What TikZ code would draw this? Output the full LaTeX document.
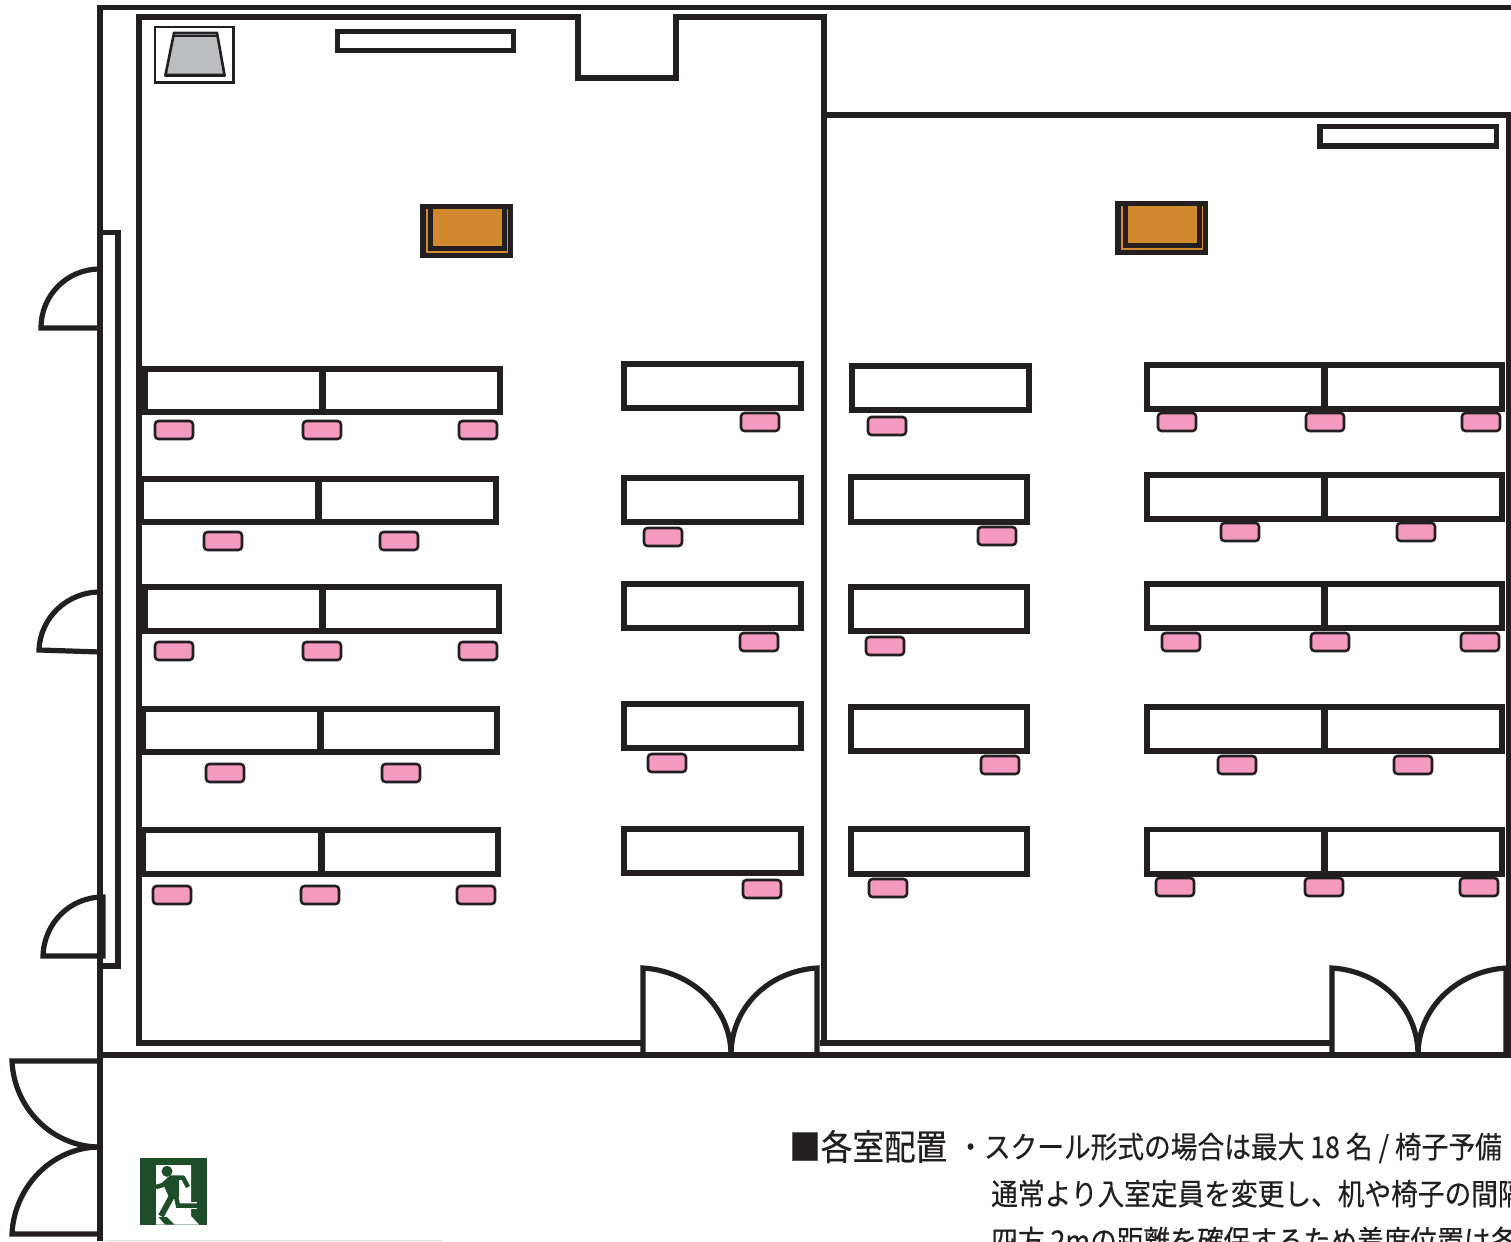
\documentclass[tikz,border=0pt]{standalone}
\usepackage{fontspec}
\newfontfamily\jpfont[FakeStretch=0.89, FakeBold=0.4]{Noto Sans CJK JP}
\definecolor{wallink}{HTML}{231F20}
\definecolor{chairpink}{HTML}{F49AC1}
\definecolor{podiumorange}{HTML}{D2882D}
\definecolor{screengray}{HTML}{BCBEC0}
\definecolor{exitgreen}{HTML}{1E4E29}
\tikzset{
  wall/.style={draw=wallink, line width=5.2pt},
  desk/.style={draw=wallink, line width=5.2pt, fill=white},
  chair/.style={draw=wallink, line width=2.6pt, fill=chairpink, rounded corners=3.5pt},
  note/.style={anchor=base west, inner sep=0pt, text=wallink, font=\jpfont\fontsize{30}{30}\selectfont},
}
\begin{document}
\begin{tikzpicture}[x=1pt, y=-1pt]
\useasboundingbox (0,0) rectangle (1511,1241);
\clip (0,0) rectangle (1511,1241);
% walls
\draw[wall] (1511,7.5)--(100,7.5)--(100,1241);
\draw[wall] (100,1055)--(1511,1055);
\draw[wall] (642,1043)--(139,1043)--(139,17)--(578,17)--(578,78)--(676,78)--(676,17)--(824,17)--(824,1043);
\draw[wall] (820,1043)--(1332,1043);
\draw[wall] (824,115)--(1508.5,115)--(1508.5,1055);
\draw[wall] (100,232.5)--(118,232.5)--(118,966)--(100,966);
% side doors
\draw[wall] (100,269) .. controls (67,269) and (41,295) .. (41,328)--(100,328);
\draw[wall] (100,592) .. controls (67,592) and (40,618) .. (39,650)--(100,652);
\draw[wall] (103,956)--(43,956) .. controls (44,923) and (70,897) .. (103,897)--cycle;
\draw[wall] (100,1061)--(12,1061) .. controls (14,1108) and (52,1147) .. (100,1147);
\draw[wall] (100,1147) .. controls (52,1147) and (14,1187) .. (12,1234)--(100,1234);
% double doors
\foreach \Xa/\Xm/\Xb in {643/731/817, 1332/1418/1506}{
    \draw[wall] (\Xa,1055)--(\Xa,968) .. controls (\Xa+48,971) and (\Xm,1007) .. (\Xm,1055);
    \draw[wall] (\Xb,1055)--(\Xb,968) .. controls (\Xb-48,971) and (\Xm,1007) .. (\Xm,1055);
}
% shelves
\draw[desk] (337.5,31.5) rectangle (513.5,50.5);
\draw[desk] (1320,126.5) rectangle (1496.5,146);
% screen
\draw[wallink, line width=2.4pt] (155,27) rectangle (233.5,82.5);
\draw[wallink, line width=2.6pt, fill=screengray] (174,33)--(217,33)--(224.5,75)--(165.5,75)--cycle;
\draw[wallink, line width=2.2pt] (174,36)--(217,36);
\draw[wallink, line width=3.5pt] (165,75.5)--(225,75.5);
% podiums
\foreach \Dx/\Dy in {0/0, 695/-3}{
    \begin{scope}[shift={(\Dx,\Dy)}]
    \fill[wallink] (420,204) rectangle (513,258);
    \fill[podiumorange] (426,209) rectangle (508,253);
    \draw[wallink, line width=5pt, fill=podiumorange] (430.5,206.5) rectangle (504.5,248.5);
    \end{scope}
}
% desks, double
\foreach \Xa/\Xm/\Xb/\Ya/\Yb in {145/322/500/369/412, 141/318/496/479/522, 145/322/499/587/631, 143/320/497/709/752, 143/321/498/830/874, 1147/1324/1502/365/409, 1147/1324/1502/475/519, 1147/1324/1502/584/628, 1147/1324/1502/707/751, 1147/1324/1502/829.5/874}{
    \draw[desk] (\Xa,\Ya) rectangle (\Xb,\Yb);
    \draw[wall, line width=7pt] (\Xm,\Ya)--(\Xm,\Yb);
}
% desks, single
\foreach \Xa/\Xb/\Ya/\Yb in {624/801/364/408, 624/801/478/522, 624/801/584/628, 624/801/704/748, 624/801/829/873, 852/1029/366/410, 851/1027/477/522, 851/1027/587/631, 851/1027/707/751, 851/1027/829/874}{
    \draw[desk] (\Xa,\Ya) rectangle (\Xb,\Yb);
}
% chairs
\foreach \Point in {(174,430), (322,430), (478,430), (223,541), (399,541), (174,651), (322,651), (478,651), (225,773), (401,773), (172,895), (320,895), (476,895), (760,422), (663,537), (759,642), (667,763), (762,889), (887,426), (997,536), (885,646), (1000,765), (888,888), (1177,422), (1325,422), (1481,422), (1240,532), (1416,532), (1181,642), (1330,642), (1480,642), (1237,765), (1413,765), (1175,887), (1324,887), (1479,887)}{
    \node[chair, minimum width=38pt, minimum height=18pt, inner sep=0pt] at \Point {};
}
% exit sign
\fill[exitgreen] (140,1158) rectangle (207,1224.5);
\fill[white] (156,1165)--(191,1165)--(191,1216)--(199,1224.5)--(156,1224.5)--cycle;
\fill[exitgreen] (167,1171.3) circle (5.5);
\draw[white, line width=6.5pt] (190,1205.5)--(197,1205.5);
\draw[exitgreen, line width=4.5pt, line join=round] (156,1187)--(163,1185)--(171,1177.5)--(183,1177.5)--(188,1187);
\fill[exitgreen] (163,1184)--(171,1176)--(179,1176)--(179,1197)--(169,1197)--cycle;
\draw[exitgreen, line width=6pt] (173,1194)--(161,1216);
\draw[exitgreen, line width=4.5pt] (175,1192)--(178,1205.5)--(197,1205.5);
\fill[exitgreen] (158.5,1217)--(167,1217)--(174.5,1224.5)--(165,1224.5)--cycle;
% texts
\node[note, font=\jpfont\fontsize{35.5}{35.5}\selectfont] (title) at (789,1160) {■各室配置};
\node[note] (lineone) at (957,1158) {・スクール形式の場合は最大 18 名 / 椅子予備};
\node[note] (linetwo) at (991,1205) {通常より入室定員を変更し、机や椅子の間隔};
\node[note] (linethree) at (991,1252) {四方 2mの距離を確保するため着席位置は各};
\draw[wallink!15, line width=0.8pt] (105,1240.5)--(442,1240.5);
\end{tikzpicture}
\end{document}
